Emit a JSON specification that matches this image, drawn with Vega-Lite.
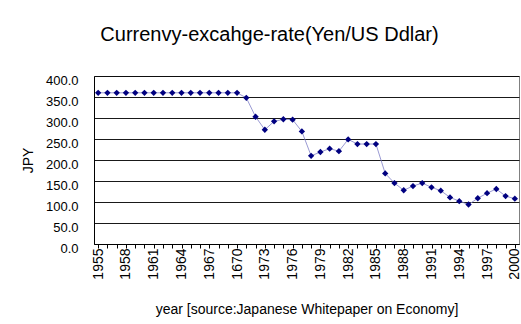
{
  "$schema": "https://vega.github.io/schema/vega-lite/v6.json",
  "autosize": {"type": "none"},
  "padding": {"left": 94, "top": 76, "right": 2, "bottom": 80},
  "width": 425,
  "height": 168,
  "background": "white",
  "title": {
    "text": "Currenvy-excahge-rate(Yen/US Ddlar)",
    "font": "Liberation Sans",
    "fontSize": 20,
    "fontWeight": "normal",
    "color": "#000",
    "anchor": "middle",
    "dx": -37,
    "offset": 29
  },
  "config": {
    "view": {"stroke": "#808080", "strokeWidth": 1},
    "axis": {
      "labelFont": "Liberation Sans",
      "titleFont": "Liberation Sans",
      "labelColor": "#000",
      "titleColor": "#000",
      "titleFontWeight": "normal",
      "domainColor": "#000",
      "tickColor": "#000"
    }
  },
  "data": {
    "values": [
      {"year": 1955, "jpy": 360}, {"year": 1956, "jpy": 360}, {"year": 1957, "jpy": 360},
      {"year": 1958, "jpy": 360}, {"year": 1959, "jpy": 360}, {"year": 1960, "jpy": 360},
      {"year": 1961, "jpy": 360}, {"year": 1962, "jpy": 360}, {"year": 1963, "jpy": 360},
      {"year": 1964, "jpy": 360}, {"year": 1965, "jpy": 360}, {"year": 1966, "jpy": 360},
      {"year": 1967, "jpy": 360}, {"year": 1968, "jpy": 360}, {"year": 1969, "jpy": 360},
      {"year": 1970, "jpy": 360}, {"year": 1971, "jpy": 348}, {"year": 1972, "jpy": 303},
      {"year": 1973, "jpy": 272}, {"year": 1974, "jpy": 292}, {"year": 1975, "jpy": 297},
      {"year": 1976, "jpy": 296}, {"year": 1977, "jpy": 268}, {"year": 1978, "jpy": 210},
      {"year": 1979, "jpy": 219}, {"year": 1980, "jpy": 227}, {"year": 1981, "jpy": 221},
      {"year": 1982, "jpy": 249}, {"year": 1983, "jpy": 238}, {"year": 1984, "jpy": 238},
      {"year": 1985, "jpy": 238}, {"year": 1986, "jpy": 168}, {"year": 1987, "jpy": 145},
      {"year": 1988, "jpy": 128}, {"year": 1989, "jpy": 138}, {"year": 1990, "jpy": 145},
      {"year": 1991, "jpy": 135}, {"year": 1992, "jpy": 127}, {"year": 1993, "jpy": 111},
      {"year": 1994, "jpy": 102}, {"year": 1995, "jpy": 94}, {"year": 1996, "jpy": 109},
      {"year": 1997, "jpy": 121}, {"year": 1998, "jpy": 131}, {"year": 1999, "jpy": 114},
      {"year": 2000, "jpy": 108}
    ]
  },
  "encoding": {
    "x": {
      "field": "year",
      "type": "ordinal",
      "scale": {"type": "point", "padding": 0.45},
      "axis": {
        "title": "year [source:Japanese Whitepaper on Economy]",
        "titleFontSize": 14,
        "titlePadding": 23,
        "labelAngle": -90,
        "labelFontSize": 14,
        "labelPadding": 0,
        "labelOverlap": false,
        "labelExpr": "(datum.value - 1955) % 3 == 0 ? (datum.value == 1970 ? '1670' : datum.value + '') : ''",
        "tickSize": 4,
        "grid": false
      }
    },
    "y": {
      "field": "jpy",
      "type": "quantitative",
      "scale": {"domain": [0, 400], "nice": false},
      "axis": {
        "title": "JPY",
        "titleFontSize": 14,
        "titlePadding": 10,
        "values": [0, 50, 100, 150, 200, 250, 300, 350, 400],
        "format": ".1f",
        "labelFontSize": 13,
        "labelPadding": 16,
        "labelOffset": 4,
        "ticks": false,
        "grid": true,
        "gridColor": "#000",
        "gridOpacity": 0.9,
        "gridWidth": 1
      }
    }
  },
  "layer": [
    {"mark": {"type": "line", "color": "#8080c8", "strokeWidth": 0.8}},
    {"mark": {"type": "point", "shape": "diamond", "filled": true, "color": "#000080", "size": 40, "opacity": 1}}
  ]
}
